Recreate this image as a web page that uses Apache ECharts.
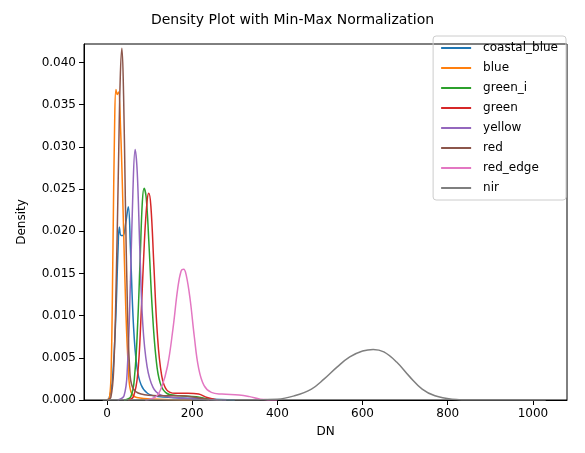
<!DOCTYPE html><html><head><meta charset="utf-8"><script src="https://cdn.jsdelivr.net/npm/echarts@6/dist/echarts.min.js"></script></head><body style="margin:0"><div id="c" style="width:585px;height:453px"></div><script>
const names=['coastal_blue','blue','green_i','green','yellow','red','red_edge','nir'];
const colors=['#1f77b4','#ff7f0e','#2ca02c','#d62728','#9467bd','#8c564b','#e377c2','#7f7f7f'];
const coastal_blue=[[0,0],[5,0.0002],[12,0.002],[20,0.009],[26,0.018],[29,0.0205],[33,0.0195],[38,0.0195],[44,0.021],[50,0.0229],[55,0.018],[62,0.009],[70,0.004],[80,0.0018],[95,0.0008],[120,0.0004],[200,0.0002],[300,0]];
const blue=[[0,0],[6,0.0003],[10,0.004],[14,0.018],[18,0.033],[21,0.0368],[24,0.0362],[27,0.0365],[32,0.032],[38,0.022],[44,0.011],[50,0.004],[56,0.001],[70,0.0003],[120,0.0001],[200,0]];
const green_i=[[40,0],[56,0.0004],[65,0.003],[72,0.009],[78,0.017],[83,0.0235],[87,0.0251],[92,0.024],[98,0.019],[106,0.011],[115,0.005],[125,0.002],[140,0.0008],[170,0.0005],[210,0.0004],[240,0.0001],[270,0]];
const green=[[50,0],[62,0.0004],[72,0.003],[80,0.01],[88,0.019],[94,0.0235],[98,0.0245],[103,0.023],[110,0.016],[118,0.008],[128,0.003],[140,0.0012],[160,0.0008],[190,0.0008],[215,0.0007],[235,0.0003],[260,0]];
const yellow=[[25,0],[40,0.0005],[48,0.004],[55,0.014],[61,0.025],[66,0.0297],[71,0.027],[77,0.018],[84,0.009],[94,0.004],[108,0.0015],[126,0.0006],[160,0.0003],[220,0.0001],[280,0]];
const red=[[0,0],[9,0.0003],[16,0.004],[22,0.015],[27,0.028],[31,0.038],[35,0.0417],[39,0.036],[43,0.024],[48,0.011],[53,0.004],[60,0.0015],[80,0.0007],[120,0.0005],[170,0.0005],[210,0.0003],[240,0]];
const red_edge=[[90,0],[115,0.0004],[128,0.0015],[142,0.004],[155,0.0085],[166,0.0132],[174,0.0153],[180,0.0155],[186,0.0148],[195,0.012],[205,0.0075],[215,0.0038],[228,0.0017],[245,0.0009],[270,0.0007],[310,0.0006],[335,0.0004],[360,0.0001],[400,0]];
const nir=[[-10,0],[300,0],[400,0.0001],[440,0.0005],[480,0.0013],[510,0.0025],[540,0.0039],[570,0.0051],[600,0.0058],[625,0.006],[650,0.0057],[680,0.0045],[710,0.0028],[740,0.0013],[770,0.0005],[810,0.0001],[860,0],[1030,0]];
const data=[coastal_blue,blue,green_i,green,yellow,red,red_edge,nir];
const xt=[0,200,400,600,800,1000];
const yt=[0,0.005,0.01,0.015,0.02,0.025,0.03,0.035,0.04];
const f='DejaVu Sans';
echarts.init(document.getElementById('c')).setOption({
animation:false,
title:{text:'Density Plot with Min-Max Normalization',left:'center',top:8,textStyle:{fontFamily:f,fontSize:14,fontWeight:'normal',color:'#000'}},
legend:{data:names,orient:'vertical',right:19,top:36,itemWidth:30,itemHeight:2,itemGap:8,icon:'rect',borderColor:'#ccc',borderWidth:1,borderRadius:3,padding:[6,8,6,8],textStyle:{fontFamily:f,fontSize:12,color:'#000',padding:[0,0,0,7]}},
grid:{left:84,right:18,top:44,bottom:53,show:true,borderColor:'#000',borderWidth:1},
xAxis:{type:'value',min:-54,max:1080,name:'DN',nameLocation:'middle',nameGap:26,nameTextStyle:{fontFamily:f,fontSize:12,color:'#000'},splitLine:{show:false},axisLine:{onZero:false,lineStyle:{color:'#000'}},axisTick:{customValues:xt,lineStyle:{color:'#000'}},axisLabel:{customValues:xt,fontFamily:f,fontSize:12,color:'#000',formatter:v=>String(v)}},
yAxis:{type:'value',min:0,max:0.0422,name:'Density',nameLocation:'middle',nameGap:56,nameTextStyle:{fontFamily:f,fontSize:12,color:'#000'},splitLine:{show:false},axisLine:{show:true,onZero:false,lineStyle:{color:'#000'}},axisTick:{show:true,customValues:yt,lineStyle:{color:'#000'}},axisLabel:{customValues:yt,fontFamily:f,fontSize:12,color:'#000',formatter:v=>v.toFixed(3)}},
series:names.map((n,i)=>({name:n,type:'line',data:data[i],smooth:0.4,showSymbol:false,color:colors[i],lineStyle:{width:1.5}}))
});
</script></body></html>
